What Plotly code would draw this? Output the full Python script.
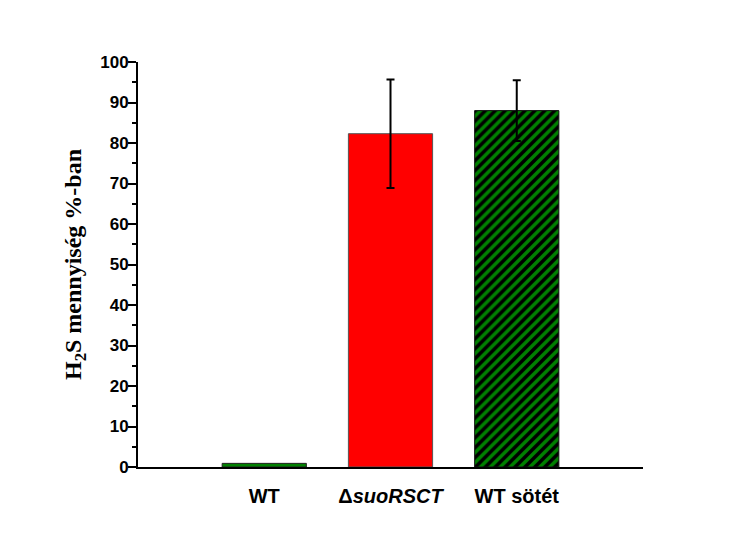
import plotly.graph_objects as go

categories = ["<b>WT</b>", "<b>Δ<i>suoRSCT</i></b>", "<b>WT sötét</b>"]
values = [0.9, 82.3, 88.0]
errors = [0, 13.4, 7.5]
colors = ["#008000", "#FF0000", "#008000"]
border_colors = ["#222222", "#555555", "#111111"]
patterns = ["", "", "/"]
y_ticks = [0, 10, 20, 30, 40, 50, 60, 70, 80, 90, 100]

fig = go.Figure()
for i in range(len(values)):
    marker = dict(color=colors[i], line=dict(color=border_colors[i], width=1))
    if patterns[i]:
        marker["pattern"] = dict(shape=patterns[i], fgcolor="#000000", bgcolor=colors[i],
                                 fgopacity=1, size=7, solidity=0.5, fillmode="replace")
    kw = {}
    if errors[i]:
        kw["error_y"] = dict(type="data", array=[errors[i]], visible=True,
                             color="black", thickness=2, width=4)
    fig.add_trace(go.Bar(x=[i], y=[values[i]], width=0.667, marker=marker, **kw))

fig.update_layout(
    width=730, height=552,
    margin=dict(l=138, r=87, t=62, b=85),
    paper_bgcolor="white", plot_bgcolor="white",
    showlegend=False,
    barmode="overlay",
    xaxis=dict(
        range=[-1, 3],
        tickmode="array", tickvals=[0, 1, 2], ticktext=categories,
        ticks="", showline=True, linecolor="black", linewidth=2,
        showgrid=False, zeroline=False,
        tickfont=dict(family="Liberation Sans, Arial", size=20, color="black"),
        ticklabelstandoff=10,
    ),
    yaxis=dict(
        range=[0, 100],
        tickmode="array", tickvals=y_ticks,
        ticks="outside", ticklen=8, tickwidth=2, tickcolor="black",
        minor=dict(ticks="outside", ticklen=4, tickwidth=2, tickcolor="black", dtick=5, tick0=0, showgrid=False),
        showline=True, linecolor="black", linewidth=2,
        showgrid=False, zeroline=False,
        tickfont=dict(family="Liberation Sans, Arial", size=17, color="black", weight="bold"),
        ticklabelstandoff=-4,
        title=dict(text="<b>H<sub>2</sub>S mennyiség %-ban</b>",
                   font=dict(family="Liberation Serif, Times New Roman", size=24, color="black"),
                   standoff=12),
    ),
)

fig.write_html("out.html")
